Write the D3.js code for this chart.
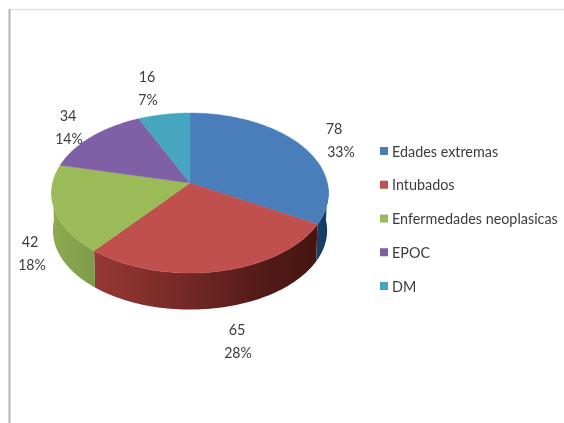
<!DOCTYPE html>
<html>
<head>
<meta charset="utf-8">
<script src="https://cdnjs.cloudflare.com/ajax/libs/d3/7.8.5/d3.min.js"></script>
<style>
  html, body { margin: 0; padding: 0; background: #fff; }
  svg { display: block; filter: blur(0.35px); }
  text { font-family: Lato, "Open Sans", sans-serif; fill: #3c3c3c; }
</style>
</head>
<body>
<div id="chart"></div>
<script>
// Data
const categories = ["Edades extremas", "Intubados", "Enfermedades neoplasicas", "EPOC", "DM"];
const values = [78, 65, 42, 34, 16];
const colors = ["#4a7ebb", "#c0504d", "#9bbb59", "#7f5fa5", "#46a6c0"];

// where each data label sits (two lines: value, percent)
const labelPos = [[334, 128, 341], [237, 329, 238], [30, 241, 32], [68, 115, 69], [147, 76, 148]];

const width = 564, height = 423;
const svg = d3.select("#chart").append("svg").attr("width", width).attr("height", height);

// frame of the pasted picture
svg.append("line").attr("x1", 9).attr("x2", width).attr("y1", 9.5).attr("y2", 9.5)
  .attr("stroke", "#e2e2e2").attr("stroke-width", 1.5);
svg.append("line").attr("x1", 9.5).attr("x2", 9.5).attr("y1", 9).attr("y2", height)
  .attr("stroke", "#b4b4b4").attr("stroke-width", 2);

// the pie is tilted with perspective, so project angle -> screen by hand
const cx = 190, cy = 183, rx = 137.4, ry = 78.75, persp = -0.125, depth = 37.5;
function project(a, scale, dy) {
  const u = Math.sin(a), v = -Math.cos(a), k = 1 + persp * v;
  return [cx + scale * rx * u / k, cy + dy + scale * ry * v / k];
}
const topRing = a => project(a, 1, 0);
const bottomRing = a => project(a, 0.99, depth);

const pie = d3.pie().sort(null).value(d => d)(values);
const line = d3.line();
const steps = (a0, a1) => d3.range(0, 61).map(i => a0 + (a1 - a0) * i / 60);

// gradients for the side wall
const defs = svg.append("defs");
function wallGradient(id, stops) {
  const g = defs.append("linearGradient").attr("id", id)
    .attr("gradientUnits", "userSpaceOnUse")
    .attr("x1", cx - rx).attr("x2", cx + rx).attr("y1", 0).attr("y2", 0);
  stops.forEach(s => g.append("stop").attr("offset", s[0]).attr("stop-color", s[1]));
}
wallGradient("wall0", [[0, "#1f4d7c"], [0.9, "#1f4d7c"], [1, "#143a60"]]);
wallGradient("wall1", [[0, "#a23f3c"], [0.25, "#8d3330"], [0.5, "#722825"], [0.75, "#541b18"], [1, "#45130f"]]);
wallGradient("wall2", [[0, "#8dab50"], [0.15, "#7f9c49"], [1, "#7f9c49"]]);

// side wall, only the front part of the circle shows
const frontFrom = Math.PI / 2, frontTo = Math.PI * 1.5;
pie.forEach((d, i) => {
  const a0 = Math.max(d.startAngle, frontFrom), a1 = Math.min(d.endAngle, frontTo);
  if (a1 <= a0) return;
  const s = steps(a0, a1);
  svg.append("path")
    .attr("d", line(s.map(topRing).concat(s.slice().reverse().map(bottomRing))) + "Z")
    .attr("fill", "url(#wall" + i + ")");
});

// top faces
pie.forEach((d, i) => {
  svg.append("path")
    .attr("d", line([[cx, cy]].concat(steps(d.startAngle, d.endAngle).map(topRing))) + "Z")
    .attr("fill", colors[i])
    .attr("stroke", colors[i])
    .attr("stroke-width", 0.4);
});

// reference font is narrower than Lato, squeeze the glyphs
function squeeze(sel, f) {
  sel.attr("lengthAdjust", "spacingAndGlyphs")
    .attr("textLength", sel.node().getComputedTextLength() * f);
}

// data labels
const total = d3.sum(values), pct = d3.format(".0%");
values.forEach((v, i) => {
  const p = labelPos[i];
  svg.append("text").attr("x", p[0]).attr("y", p[1] + 5.5).attr("text-anchor", "middle")
    .attr("font-size", 16).text(v).call(squeeze, 0.9);
  svg.append("text").attr("x", p[2]).attr("y", p[1] + 28.5).attr("text-anchor", "middle")
    .attr("font-size", 16).text(pct(v / total)).call(squeeze, 0.88);
});

// legend
const legendY = d3.scalePoint().domain(categories).range([151, 286]);
categories.forEach((c, i) => {
  svg.append("rect").attr("x", 380).attr("y", legendY(c) - 4).attr("width", 8).attr("height", 8)
    .attr("fill", colors[i]);
  svg.append("text").attr("x", 392).attr("y", legendY(c) + 5.5)
    .attr("font-size", 14.8).text(c).call(squeeze, 0.97);
});
</script>
</body>
</html>
